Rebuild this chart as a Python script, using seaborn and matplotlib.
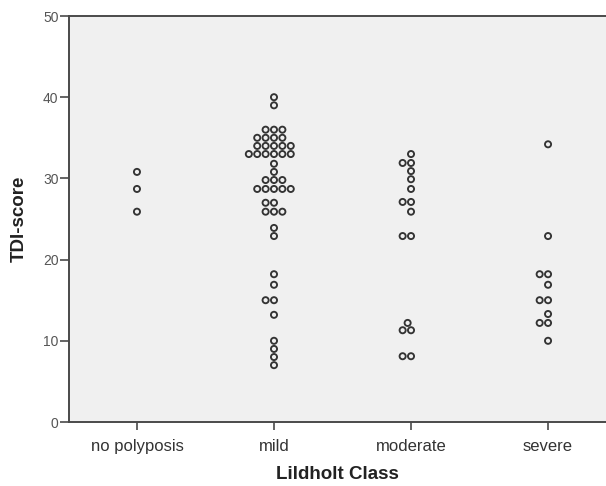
import matplotlib
matplotlib.use("Agg")
import matplotlib.pyplot as plt
import seaborn as sns
import pandas as pd

categories = ["no polyposis", "mild", "moderate", "severe"]

no_polyposis = [30.8, 28.7, 25.9]
mild = ([40.0, 39.0] + [36.0] * 3 + [35.0] * 4 + [34.0] * 5 + [33.0] * 6 +
        [31.8, 30.8] + [29.8] * 3 + [28.7] * 5 + [27.0] * 2 + [25.9] * 3 +
        [23.9, 22.9, 18.2, 16.9, 15.0, 15.0, 13.2, 10.0, 9.0, 8.0, 7.0])
moderate = ([33.0, 31.9, 31.9, 30.9, 29.9, 28.7, 27.1, 27.1, 25.9, 22.9, 22.9,
             12.2, 11.3, 11.3, 8.1, 8.1])
severe = [34.2, 22.9, 18.2, 18.2, 16.9, 15.0, 15.0, 13.3, 12.2, 12.2, 10.0]

y_ticks = [0, 10, 20, 30, 40, 50]

groups = [no_polyposis, mild, moderate, severe]
df = pd.DataFrame({
    "Lildholt Class": [c for c, g in zip(categories, groups) for _ in g],
    "TDI-score": [v for g in groups for v in g],
})

sns.set_style("white")
plt.rcParams["font.family"] = ["Liberation Sans", "DejaVu Sans"]

fig = plt.figure(figsize=(6.06, 4.86), dpi=100)
ax = fig.add_axes([69 / 606, 64 / 486, 537 / 606, 406 / 486])
ax.set_facecolor("#f0f0f0")

sns.swarmplot(data=df, x="Lildholt Class", y="TDI-score", order=categories,
              size=4.4, linewidth=1.35, color="#f0f0f0", edgecolor="#333333",
              ax=ax)
for coll in ax.collections:
    coll.set_facecolor("none")
    coll.set_edgecolor("#333333")
    coll.set_linewidth(1.35)

ax.set_xlim(-0.496, 3.423)
ax.set_ylim(0, 50)
ax.set_yticks(y_ticks)
ax.set_yticklabels([str(t) for t in y_ticks])

for side in ["left", "bottom", "top"]:
    ax.spines[side].set_visible(True)
    ax.spines[side].set_color("#4a4a4a")
    ax.spines[side].set_linewidth(1.4)
ax.spines["right"].set_visible(False)

ax.tick_params(axis="y", direction="out", length=6.5, width=1.2, color="#4a4a4a",
               labelsize=10, labelcolor="#555555", pad=1, left=True)
ax.tick_params(axis="x", direction="out", length=6, width=1.2, color="#4a4a4a",
               labelsize=12, labelcolor="#333333", pad=6, bottom=True)

ax.set_ylabel("TDI-score", fontsize=13.5, fontweight="bold", color="#222222",
              labelpad=11)
ax.set_xlabel("Lildholt Class", fontsize=13.5, fontweight="bold", color="#222222",
              labelpad=9)

fig.savefig("out.png", dpi=100, facecolor="white")
